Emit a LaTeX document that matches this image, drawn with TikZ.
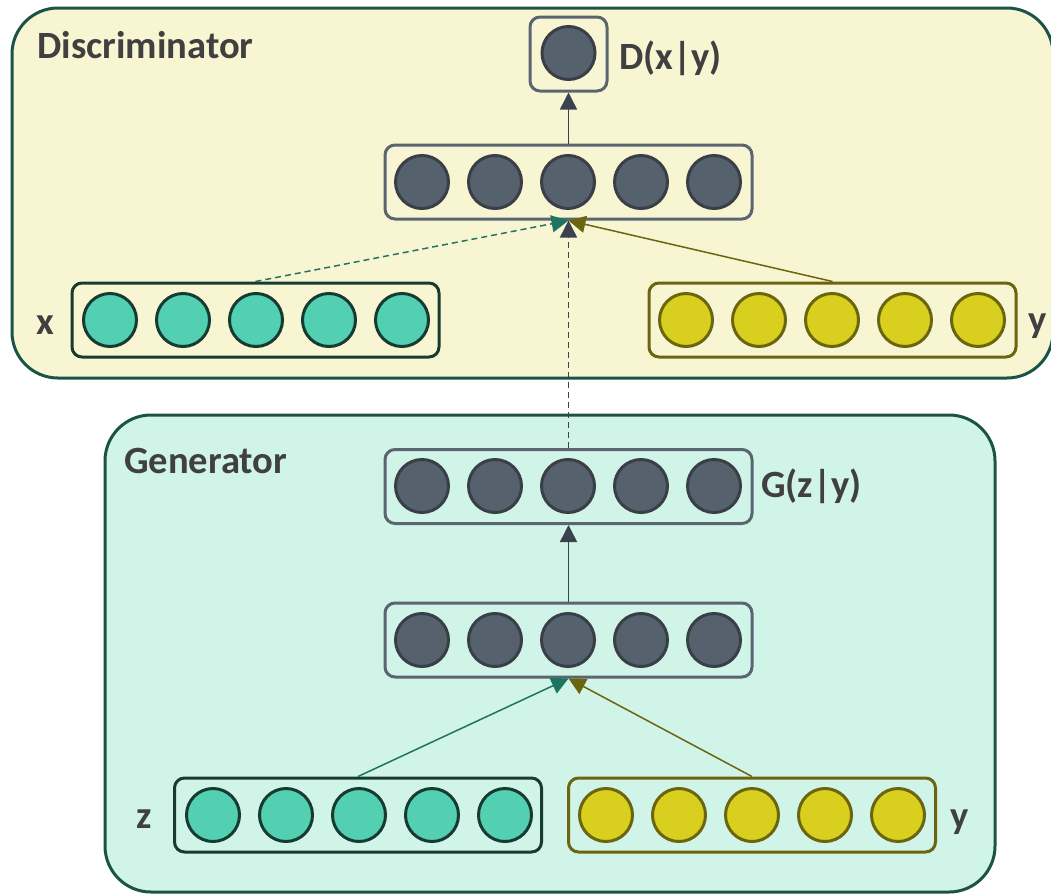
\documentclass[tikz,border=0pt]{standalone}
\usepackage{fontspec}
\setmainfont{Carlito}
\usetikzlibrary{arrows.meta}

\definecolor{discbg}{HTML}{F8F6D2}
\definecolor{genbg}{HTML}{D1F4E8}
\definecolor{frame}{HTML}{1B5446}
\definecolor{txt}{HTML}{404040}
\definecolor{slatefill}{HTML}{56616E}
\definecolor{slateedge}{HTML}{3A3E46}
\definecolor{slatebox}{HTML}{5B6572}
\definecolor{tealfill}{HTML}{52D0B1}
\definecolor{tealedge}{HTML}{173A31}
\definecolor{tealline}{HTML}{1E7461}
\definecolor{olivefill}{HTML}{D8CF1F}
\definecolor{oliveedge}{HTML}{6B6510}
\definecolor{arrowdark}{HTML}{3A424E}

\tikzset{
  panel/.style={line width=3pt, draw=frame, rounded corners=46pt},
  layer/.style={rectangle, rounded corners=10pt, line width=3pt,
    minimum width=367pt, minimum height=74pt, inner sep=0pt},
  slatelayer/.style={layer, draw=slatebox},
  tealayer/.style={layer, draw=tealedge},
  olivelayer/.style={layer, draw=oliveedge},
  neuron/.style={circle, line width=3pt, minimum size=53pt, inner sep=0pt},
  slateneuron/.style={neuron, fill=slatefill, draw=slateedge},
  tealneuron/.style={neuron, fill=tealfill, draw=tealedge},
  oliveneuron/.style={neuron, fill=olivefill, draw=oliveedge},
  lbl/.style={text=txt, inner sep=0pt, font=\fontsize{38.6}{44}\selectfont\bfseries},
  link/.style={line width=1.5pt, -{Triangle[length=17pt, width=17pt]}},
  darklink/.style={link, draw=arrowdark},
  teallink/.style={link, draw=tealline},
  olivelink/.style={link, draw=oliveedge},
  dashlink/.style={dash pattern=on 6pt off 4pt},
}

\begin{document}
\begin{tikzpicture}[x=1pt, y=-1pt]
\clip (0,0) rectangle (1051,894);

% panels
\draw[panel, fill=discbg] (12,8) rectangle (1053,378);
\draw[panel, fill=genbg] (105,415) rectangle (995,892);

\node[lbl, anchor=base west] (disctitle) at (37,58) {Discriminator};
\node[lbl, anchor=base west] (gentitle) at (124,473) {Generator};

% discriminator output
\node[slatelayer, minimum width=77pt] (dout) at (568.5,54) {};
\node[slateneuron] (doutn) at (568.5,53) {};
\node[lbl, anchor=base west] (doutlbl) at (619,69) {D(x|y)};

% discriminator hidden layer
\node[slatelayer] (dh) at (568.5,182) {};
\foreach \i in {1,...,5} \node[slateneuron] (dh\i) at ({422+73*(\i-1)},182) {};

% real sample x
\node[tealayer] (xin) at (255.5,320) {};
\foreach \i in {1,...,5} \node[tealneuron] (xin\i) at ({110+73*(\i-1)},320) {};
\node[lbl, anchor=base] (xlbl) at (45,334) {x};

% condition y (discriminator)
\node[olivelayer] (ydin) at (832.5,320) {};
\foreach \i in {1,...,5} \node[oliveneuron] (ydin\i) at ({686+73*(\i-1)},320) {};
\node[lbl, anchor=base] (ydlbl) at (1038,332) {y};

% generator output
\node[slatelayer] (gout) at (568.5,486.5) {};
\foreach \i in {1,...,5} \node[slateneuron] (gout\i) at ({422+73*(\i-1)},486) {};
\node[lbl, anchor=base west] (goutlbl) at (761,497) {G(z|y)};

% generator hidden layer
\node[slatelayer] (gh) at (568.5,640) {};
\foreach \i in {1,...,5} \node[slateneuron] (gh\i) at ({422+73*(\i-1)},640) {};

% noise z
\node[tealayer] (zin) at (358,815) {};
\foreach \i in {1,...,5} \node[tealneuron] (zin\i) at ({213+73*(\i-1)},815) {};
\node[lbl, anchor=base] (zlbl) at (144,828) {z};

% condition y (generator)
\node[olivelayer] (ygin) at (752,815) {};
\foreach \i in {1,...,5} \node[oliveneuron] (ygin\i) at ({606+73*(\i-1)},815) {};
\node[lbl, anchor=base] (yglbl) at (960,828) {y};

% connectors
\draw[darklink] (dh.north) -- (dout.south);
\draw[darklink, dashlink] (gout.north) -- (dh.south);
\draw[teallink, dashlink] (xin.north) -- (dh.south);
\draw[olivelink] (ydin.north) -- (dh.south);
\draw[darklink] (gh.north) -- (gout.south);
\draw[teallink] (zin.north) -- (gh.south);
\draw[olivelink] (ygin.north) -- (gh.south);
\end{tikzpicture}
\end{document}
